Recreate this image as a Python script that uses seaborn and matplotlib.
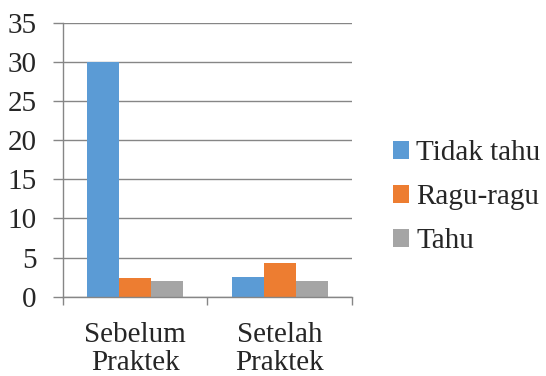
import pandas as pd
import matplotlib
matplotlib.use("Agg")
import matplotlib.pyplot as plt
import seaborn as sns

categories = ["Sebelum\nPraktek", "Setelah\nPraktek"]
series = ["Tidak tahu", "Ragu-ragu", "Tahu"]
tidak_tahu = [30, 2.5]
ragu_ragu = [2.33, 4.33]
tahu = [2, 2]
colors = ["#5B9BD5", "#ED7D31", "#A5A5A5"]

rows = []
for name, vals in zip(series, [tidak_tahu, ragu_ragu, tahu]):
    for cat, v in zip(categories, vals):
        rows.append({"kategori": cat, "jawaban": name, "jumlah": v})
df = pd.DataFrame(rows)

sns.set_style("white")
plt.rcParams["font.family"] = ["Liberation Serif", "DejaVu Serif"]

fig = plt.figure(figsize=(5.46, 3.76), dpi=100)
ax = fig.add_axes([0.115, 0.211, 0.53, 0.728])

sns.barplot(data=df, x="kategori", y="jumlah", hue="jawaban",
            palette=colors, saturation=1, width=0.66, gap=0, linewidth=0, ax=ax)

ax.set_ylim(0, 35)
ax.set_yticks(range(0, 36, 5))
ax.set_xlim(-0.5, 1.5)
ax.yaxis.grid(True, color="#868686", linewidth=1.0)
ax.set_axisbelow(True)
for s in ["top", "right"]:
    ax.spines[s].set_visible(False)
for s in ["left", "bottom"]:
    ax.spines[s].set_color("#868686")
    ax.spines[s].set_linewidth(1.0)

ax.set_xlabel("")
ax.set_ylabel("")
ax.tick_params(axis="y", labelsize=21, length=7, width=1.0, color="#868686", pad=12, left=True)
ax.tick_params(axis="x", which="major", labelsize=21, length=0, pad=18)
ax.set_xticks([-0.5, 0.5, 1.5], minor=True)
ax.tick_params(axis="x", which="minor", length=6, width=1.0, color="#868686", bottom=True)
for lab in ax.get_xticklabels():
    lab.set_linespacing(1.12)

handles, labels = ax.get_legend_handles_labels()
ax.legend(handles, labels, loc="center left", bbox_to_anchor=(0.672, 0.475),
          bbox_transform=fig.transFigure, frameon=False, fontsize=21,
          handlelength=0.55, handleheight=0.55, handletextpad=0.25, labelspacing=0.62)

fig.savefig("out.png", dpi=100)
